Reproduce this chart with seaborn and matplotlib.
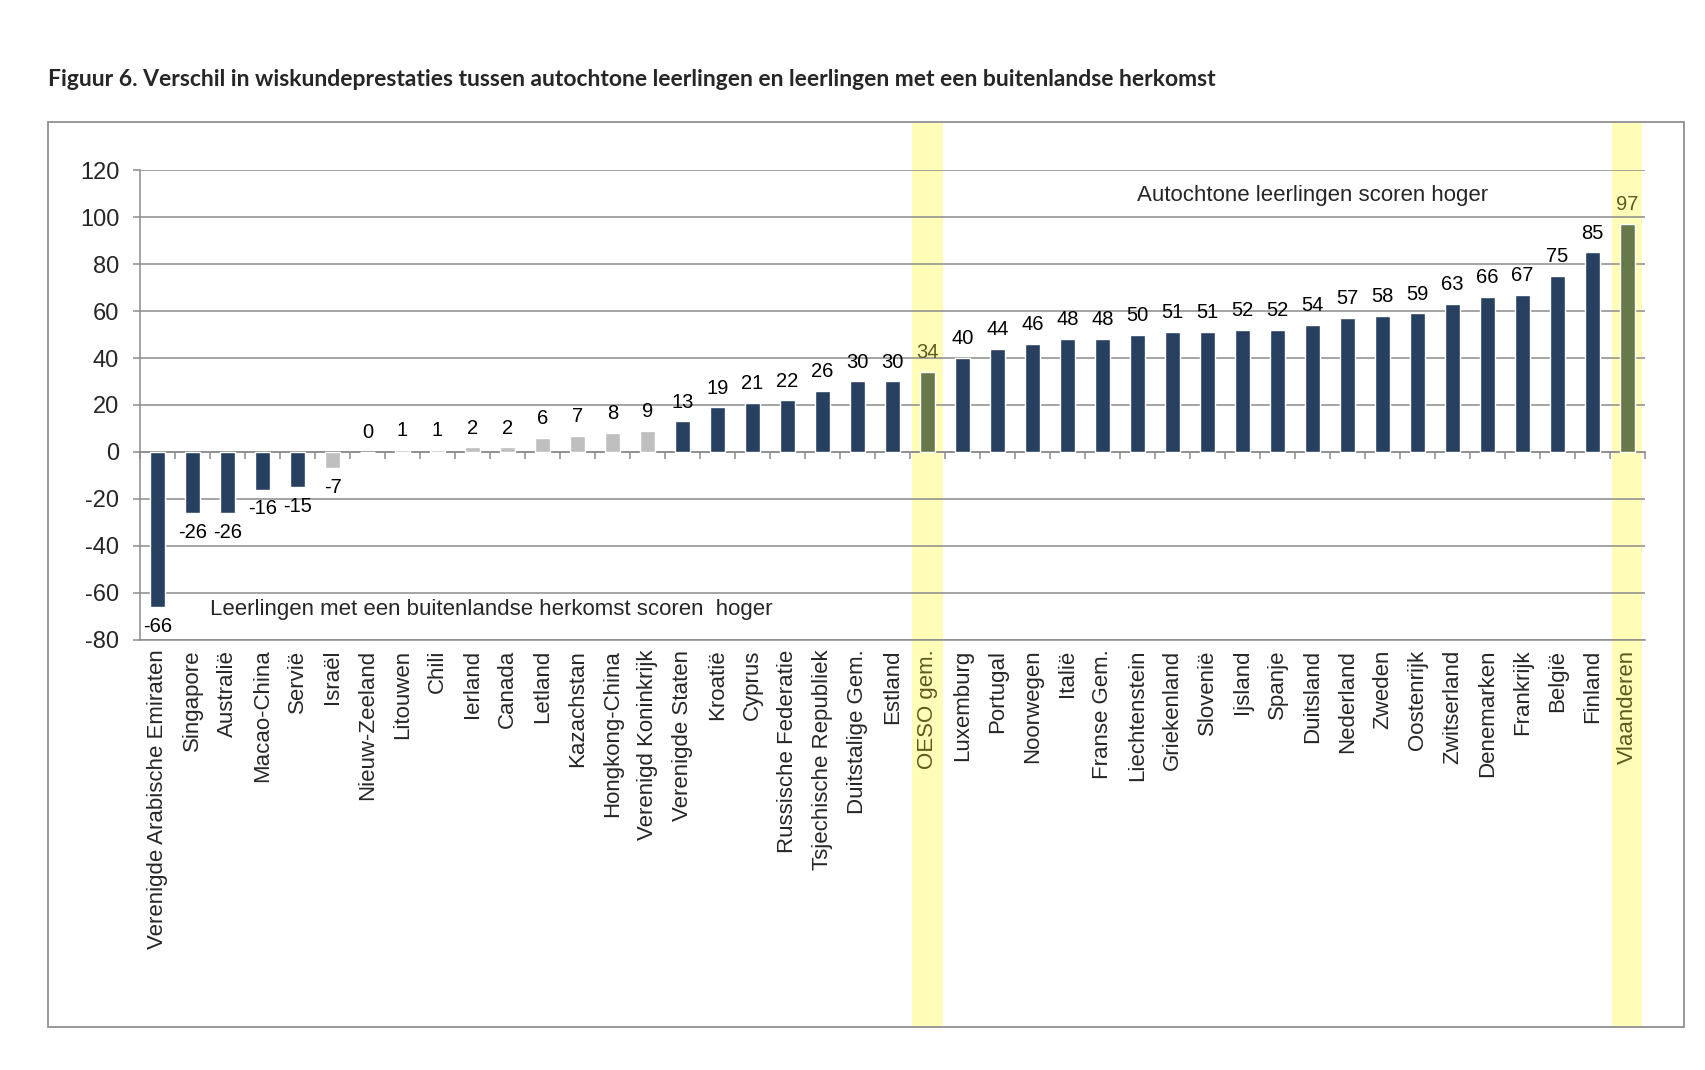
import numpy as np
import pandas as pd
import matplotlib
matplotlib.use("Agg")
import matplotlib.pyplot as plt
import matplotlib.transforms as mtransforms
from matplotlib.patches import Rectangle
import seaborn as sns

# Data
countries = [
    "Verenigde Arabische Emiraten", "Singapore", "Australië", "Macao-China", "Servië",
    "Israël", "Nieuw-Zeeland", "Litouwen", "Chili", "Ierland", "Canada", "Letland",
    "Kazachstan", "Hongkong-China", "Verenigd Koninkrijk", "Verenigde Staten", "Kroatië",
    "Cyprus", "Russische Federatie", "Tsjechische Republiek", "Duitstalige Gem.", "Estland",
    "OESO gem.", "Luxemburg", "Portugal", "Noorwegen", "Italië", "Franse Gem.",
    "Liechtenstein", "Griekenland", "Slovenië", "Ijsland", "Spanje", "Duitsland",
    "Nederland", "Zweden", "Oostenrijk", "Zwitserland", "Denemarken", "Frankrijk",
    "België", "Finland", "Vlaanderen",
]
values = [
    -66, -26, -26, -16, -15, -7, 0, 1, 1, 2, 2, 6, 7, 8, 9, 13, 19, 21, 22, 26, 30, 30,
    34, 40, 44, 46, 48, 48, 50, 51, 51, 52, 52, 54, 57, 58, 59, 63, 66, 67, 75, 85, 97,
]
not_significant = [
    "Israël", "Nieuw-Zeeland", "Litouwen", "Chili", "Ierland", "Canada", "Letland",
    "Kazachstan", "Hongkong-China", "Verenigd Koninkrijk",
]
highlighted = ["OESO gem.", "Vlaanderen"]

title = ("Figuur 6. Verschil in wiskundeprestaties tussen autochtone leerlingen "
         "en leerlingen met een buitenlandse herkomst")
note_top = "Autochtone leerlingen scoren hoger"
note_bottom = "Leerlingen met een buitenlandse herkomst scoren  hoger"

NAVY = "#27405F"
GREY = "#BFBFBF"
GREEN = "#67784A"
OLIVE = "#5C5A1E"
YELLOW = "#FFFDB7"
LINE = "#8C8C8C"

df = pd.DataFrame({"land": countries, "verschil": values})
palette = {}
for c in countries:
    if c in highlighted:
        palette[c] = GREEN
    elif c in not_significant:
        palette[c] = GREY
    else:
        palette[c] = NAVY

sns.set_style("white")
plt.rcParams["font.family"] = ["Liberation Sans", "DejaVu Sans"]
plt.rcParams["axes.unicode_minus"] = False

fig = plt.figure(figsize=(17.06, 10.70), dpi=100)
ax = fig.add_axes([0.0821, 0.4019, 0.8821, 0.4392])
ax.set_facecolor("none")

sns.barplot(data=df, x="land", y="verschil", hue="land", palette=palette,
            order=countries, hue_order=countries, width=0.43, legend=False,
            saturation=1, ax=ax, zorder=3)

ymin, ymax = -80, 120
ax.set_ylim(ymin, ymax)
ax.set_xlim(-0.5, len(countries) - 0.5)
ax.set_yticks(np.arange(ymin, ymax + 1, 20))
ax.yaxis.grid(True, color=LINE, linewidth=1.1)
ax.set_axisbelow(True)
ax.set_xlabel("")
ax.set_ylabel("")

for side in ["top", "right"]:
    ax.spines[side].set_visible(False)
for side in ["left", "bottom"]:
    ax.spines[side].set_color(LINE)
    ax.spines[side].set_linewidth(1.1)

ax.tick_params(axis="y", direction="out", length=5, width=1.1, color=LINE,
               labelsize=17, pad=10, left=True)
ax.tick_params(axis="x", length=0, labelsize=16, pad=7)
ax.set_xticks(range(len(countries)))
ax.set_xticklabels(countries, rotation=90, va="top", ha="center")
for lbl in ax.get_xticklabels():
    if lbl.get_text() in highlighted:
        lbl.set_color(OLIVE)

# category boundary ticks on the zero line
sec = ax.secondary_xaxis((0 - ymin) / (ymax - ymin))
sec.set_xticks(np.arange(-0.5, len(countries), 1))
sec.set_xticklabels([])
sec.tick_params(direction="out", length=5, width=1.1, color=LINE)
sec.spines["bottom"].set_color(LINE)
sec.spines["bottom"].set_linewidth(1.1)

# value labels
for cont, name in zip(ax.containers, countries):
    col = OLIVE if name in highlighted else "black"
    ax.bar_label(cont, fmt="%d", padding=7, fontsize=14.5, color=col)

# yellow highlight bands spanning the whole frame
blend = mtransforms.blended_transform_factory(ax.transData, fig.transFigure)
band_bottom, band_top = 1 - 1026 / 1070, 1 - 123 / 1070
for name in highlighted:
    i = countries.index(name)
    fig.add_artist(Rectangle((i - 0.43, band_bottom), 0.86, band_top - band_bottom,
                             transform=blend, facecolor=YELLOW, edgecolor="none",
                             zorder=-1))

# outer frame
fig.add_artist(Rectangle((48 / 1706, 1 - 1027 / 1070), (1684 - 48) / 1706,
                         (1027 - 122) / 1070, transform=fig.transFigure,
                         facecolor="none", edgecolor="#909090", linewidth=1.3))

ax.text(28.0, 109, note_top, fontsize=16, ha="left", va="center")
ax.text(1.5, -67, note_bottom, fontsize=16, ha="left", va="center")

fig.text(48 / 1706, 1 - 79 / 1070, title, fontsize=16.5, fontweight="bold",
         family=["Lato", "DejaVu Sans"], ha="left", va="center")

fig.savefig("out.png", dpi=100)
